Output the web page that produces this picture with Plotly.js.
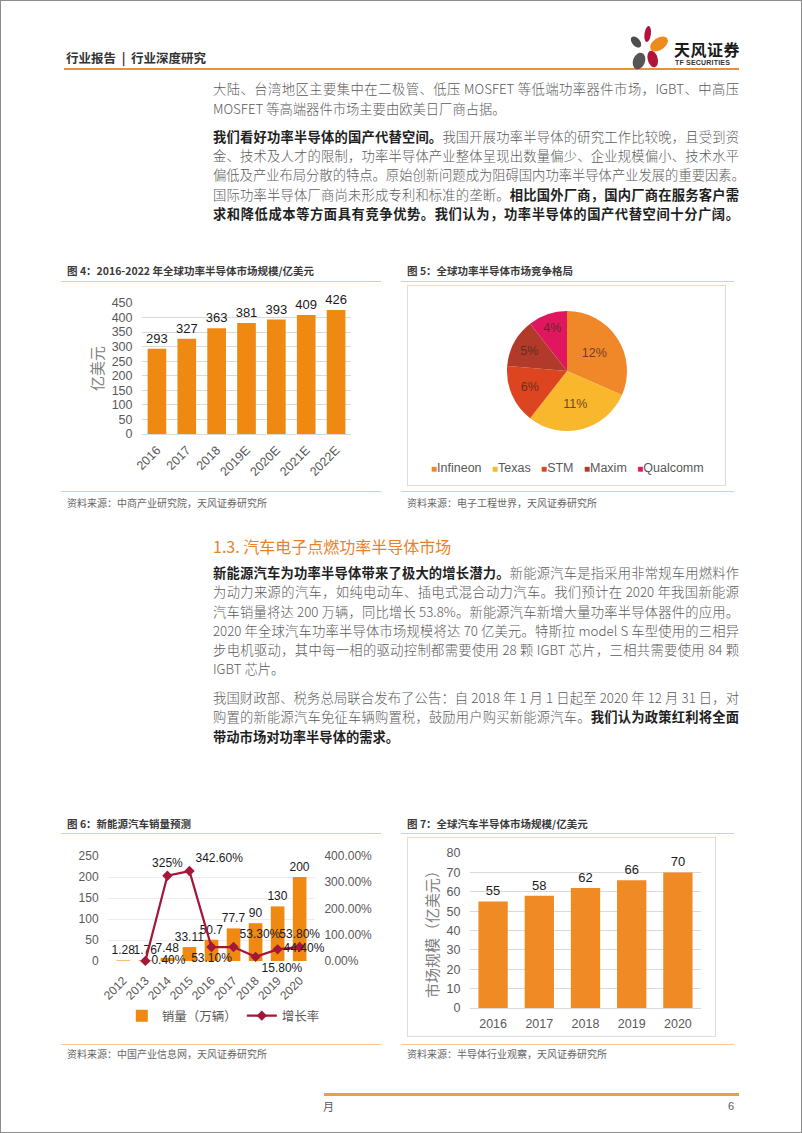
<!DOCTYPE html>
<html>
<head>
<meta charset="utf-8">
<script src="https://cdn.plot.ly/plotly-3.0.1.min.js"></script>
<style>
  html, body { margin:0; padding:0; background:#fff; }
  #page { position:relative; width:802px; height:1133px; box-sizing:border-box; border:1px solid #8c8c8c; overflow:hidden;
          font-family:"Noto Sans CJK SC", "Noto Sans", sans-serif; background:#fff; }
  .abs { position:absolute; white-space:nowrap; }
  .para { position:absolute; left:212px; width:526px; font-size:13.3px; line-height:19.2px; color:#5a5a5a; font-weight:300; }
  .para div { white-space:nowrap; text-align:justify; text-align-last:justify; }
  .para div.last { text-align-last:left; }
  .para b { color:#1f1f1f; font-weight:700; }
  .figtitle { position:absolute; font-size:10.5px; font-weight:700; color:#3a3a3a; line-height:14px; white-space:nowrap; }
  .src { position:absolute; font-size:10px; color:#666; line-height:14px; white-space:nowrap; }
  .rule { position:absolute; height:1px; background:#f4c79c; }
  .box { position:absolute; border:1px solid #dcdcdc; box-sizing:border-box; }
  .chart { position:absolute; }
</style>
</head>
<body>
<div id="page">

  <!-- header -->
  <div class="abs" style="left:65px; top:48px; font-size:12.5px; line-height:17px; font-weight:700; color:#333;">行业报告&nbsp;&nbsp;|&nbsp;&nbsp;行业深度研究</div>
  <div class="abs" style="left:63px; top:67px; width:675px; height:2px; background:#e8913a;"></div>
  <svg class="abs" style="left:626px; top:22px;" width="48" height="50" viewBox="0 0 48 50">
    <ellipse cx="9" cy="19" rx="4" ry="6.5" transform="rotate(-40 9 19)" fill="#4d4d4d"/>
    <ellipse cx="20.7" cy="11" rx="3.2" ry="8" transform="rotate(8 20.7 11)" fill="#b3123b"/>
    <ellipse cx="32" cy="21" rx="10" ry="6" transform="rotate(-35 32 21)" fill="#f08a1c"/>
    <ellipse cx="12" cy="38" rx="6" ry="8.5" transform="rotate(20 12 38)" fill="#555"/>
    <ellipse cx="25.7" cy="36" rx="5" ry="8.5" transform="rotate(-15 25.7 36)" fill="#b3123b"/>
  </svg>
  <div class="abs" style="left:673px; top:38px; font-size:16px; line-height:20px; font-weight:700; color:#1a1a1a; letter-spacing:0.5px;">天风证券</div>
  <div class="abs" style="left:674px; top:57px; font-size:7px; line-height:10px; font-weight:700; color:#333; font-family:'Liberation Sans',Arial,sans-serif; letter-spacing:0.2px;">TF SECURITIES</div>

  <!-- paragraph 1 -->
  <div class="para" style="top:78.4px;">
    <div>大陆、台湾地区主要集中在二极管、低压 MOSFET 等低端功率器件市场，IGBT、中高压</div>
    <div class="last">MOSFET 等高端器件市场主要由欧美日厂商占据。</div>
  </div>
  <!-- paragraph 2 -->
  <div class="para" style="top:125.9px;">
    <div><b>我们看好功率半导体的国产代替空间。</b>我国开展功率半导体的研究工作比较晚，且受到资</div>
    <div>金、技术及人才的限制，功率半导体产业整体呈现出数量偏少、企业规模偏小、技术水平</div>
    <div>偏低及产业布局分散的特点。原始创新问题成为阻碍国内功率半导体产业发展的重要因素。</div>
    <div>国际功率半导体厂商尚未形成专利和标准的垄断。<b>相比国外厂商，国内厂商在服务客户需</b></div>
    <div><b>求和降低成本等方面具有竞争优势。我们认为，功率半导体的国产代替空间十分广阔。</b></div>
  </div>

  <!-- figure 4 / 5 frames -->
  <div class="figtitle" style="left:66px; top:263px;">图 4：2016-2022 年全球功率半导体市场规模/亿美元</div>
  <div class="figtitle" style="left:406px; top:263px;">图 5：全球功率半导体市场竞争格局</div>
  <div class="rule" style="left:60px; top:280px; width:320px;"></div>
  <div class="rule" style="left:400px; top:280px; width:333px;"></div>
  <div class="box" style="left:406px; top:284px; width:319px; height:201px;"></div>
  <div id="fig4" class="chart" style="left:60px; top:285px; width:325px; height:200px;"></div>
  <div id="fig5" class="chart" style="left:407px; top:285px; width:318px; height:200px;"></div>
  <div class="rule" style="left:60px; top:490px; width:320px;"></div>
  <div class="rule" style="left:400px; top:490px; width:333px;"></div>
  <div class="src" style="left:66px; top:495px;">资料来源：中商产业研究院，天风证券研究所</div>
  <div class="src" style="left:406px; top:495px;">资料来源：电子工程世界，天风证券研究所</div>

  <!-- section 1.3 -->
  <div class="abs" style="left:212px; top:535px; font-size:16px; line-height:21px; color:#e8822a;">1.3. 汽车电子点燃功率半导体市场</div>
  <div class="para" style="top:562.1px;">
    <div><b>新能源汽车为功率半导体带来了极大的增长潜力。</b>新能源汽车是指采用非常规车用燃料作</div>
    <div>为动力来源的汽车，如纯电动车、插电式混合动力汽车。我们预计在 2020 年我国新能源</div>
    <div>汽车销量将达 200 万辆，同比增长 53.8%。新能源汽车新增大量功率半导体器件的应用。</div>
    <div>2020 年全球汽车功率半导体市场规模将达 70 亿美元。特斯拉 model S 车型使用的三相异</div>
    <div>步电机驱动，其中每一相的驱动控制都需要使用 28 颗 IGBT 芯片，三相共需要使用 84 颗</div>
    <div class="last">IGBT 芯片。</div>
  </div>
  <div class="para" style="top:687.1px;">
    <div>我国财政部、税务总局联合发布了公告：自 2018 年 1 月 1 日起至 2020 年 12 月 31 日，对</div>
    <div>购置的新能源汽车免征车辆购置税，鼓励用户购买新能源汽车。<b>我们认为政策红利将全面</b></div>
    <div class="last"><b>带动市场对功率半导体的需求。</b></div>
  </div>

  <!-- figure 6 / 7 frames -->
  <div class="figtitle" style="left:66px; top:815.7px;">图 6：新能源汽车销量预测</div>
  <div class="figtitle" style="left:406px; top:815.7px;">图 7：全球汽车半导体市场规模/亿美元</div>
  <div class="rule" style="left:60px; top:832px; width:320px;"></div>
  <div class="rule" style="left:400px; top:832px; width:333px;"></div>
  <div class="box" style="left:406px; top:836px; width:309px; height:200px;"></div>
  <div id="fig6" class="chart" style="left:60px; top:835px; width:320px; height:200px;"></div>
  <div id="fig7" class="chart" style="left:406px; top:836px; width:309px; height:200px;"></div>
  <div class="rule" style="left:60px; top:1043px; width:320px;"></div>
  <div class="rule" style="left:400px; top:1043px; width:333px;"></div>
  <div class="src" style="left:66px; top:1046px;">资料来源：中国产业信息网，天风证券研究所</div>
  <div class="src" style="left:406px; top:1046px;">资料来源：半导体行业观察，天风证券研究所</div>

  <!-- footer -->
  <div class="abs" style="left:323px; top:1092px; width:415px; height:3px; background:#e9a13a;"></div>
  <div class="abs" style="left:322px; top:1097px; font-size:11px; line-height:16px; color:#595959;">月</div>
  <div class="abs" style="left:727px; top:1097px; font-size:11px; line-height:16px; color:#595959; font-family:'Liberation Sans',Arial,sans-serif;">6</div>
</div>

<script>
// 图4：全球功率半导体市场规模（亿美元）
const marketYears = ['2016', '2017', '2018', '2019E', '2020E', '2021E', '2022E'];
const marketSize = [293, 327, 363, 381, 393, 409, 426];

// 图5：全球功率半导体市场竞争格局
const vendors = ['Infineon', 'Texas', 'STM', 'Maxim', 'Qualcomm'];
const vendorShare = [12, 11, 6, 5, 4];
const vendorColors = ['#f0882a', '#f8b72c', '#dc451f', '#b23a2b', '#e0175f'];

// 图6：新能源汽车销量（万辆）与增长率
const evYears = ['2012', '2013', '2014', '2015', '2016', '2017', '2018', '2019', '2020'];
const evSales = [1.28, 1.76, 7.48, 33.11, 50.7, 77.7, 90, 130, 200];
const evGrowth = [null, 0.004, 3.25, 3.426, 0.531, 0.533, 0.158, 0.444, 0.538];
const evGrowthLabels = ['', '0.40%', '325%', '342.60%', '53.10%', '53.30%', '15.80%', '44.40%', '53.80%'];

// 图7：全球汽车半导体市场规模（亿美元）
const autoYears = ['2016', '2017', '2018', '2019', '2020'];
const autoSize = [55, 58, 62, 66, 70];

const fontFam = '"Liberation Sans", Arial, "Noto Sans CJK SC", sans-serif';
const cfg = { displayModeBar: false, staticPlot: true };
const clear = 'rgba(0,0,0,0)';
const tickGray = '#595959';

// Figure 4
Plotly.newPlot('fig4', [{
    type: 'bar',
    x: marketYears,
    y: marketSize,
    marker: { color: '#ef8912' },
    text: marketSize.map(String),
    textposition: 'outside',
    constraintext: 'none',
    cliponaxis: false,
    textfont: { size: 13, color: '#1a1a1a' }
}], {
    width: 325, height: 200,
    margin: { l: 81, r: 35, t: 17, b: 52 },
    paper_bgcolor: clear, plot_bgcolor: clear,
    font: { family: fontFam, size: 12, color: tickGray },
    bargap: 0.375,
    showlegend: false,
    xaxis: {
        type: 'category', tickangle: -45,
        ticks: 'outside', ticklen: 3, tickcolor: clear,
        showline: true, linecolor: '#d9d9d9',
        tickfont: { size: 12.5, color: tickGray }
    },
    yaxis: {
        range: [0, 450], dtick: 50, gridcolor: '#d9d9d9', zeroline: false,
        ticks: 'outside', ticklen: 6, tickcolor: clear,
        tickfont: { size: 12.5, color: tickGray },
        title: { text: '亿美元', font: { size: 15, color: '#808080' }, standoff: 4 }
    }
}, cfg);

// Figure 5 (legend written as one annotation so it stays on one compact row)
const pieLegend = vendors.map((v, i) =>
    '<span style="color:' + vendorColors[i] + ';font-size:10px">■</span>' + v).join('   ');

Plotly.newPlot('fig5', [{
    type: 'pie',
    labels: vendors,
    values: vendorShare,
    sort: false,
    direction: 'clockwise',
    rotation: 0,
    marker: { colors: vendorColors, line: { width: 0 } },
    text: vendorShare.map(v => v + '%'),
    textinfo: 'text',
    textposition: 'inside',
    insidetextorientation: 'horizontal',
    textfont: { size: 12.5, color: 'rgba(75,40,30,0.8)', family: fontFam },
    domain: { x: [0.31, 0.69], y: [0.275, 0.875] }
}], {
    width: 318, height: 200,
    margin: { l: 0, r: 0, t: 0, b: 0 },
    paper_bgcolor: clear,
    showlegend: false,
    font: { family: fontFam },
    annotations: [{
        text: pieLegend, showarrow: false,
        xref: 'paper', yref: 'paper', x: 0.503, y: 0.092,
        xanchor: 'center', yanchor: 'middle',
        font: { size: 12.5, color: tickGray }
    }]
}, cfg);

// Figure 6
const growthPos = ['top center', 'middle right', 'top center', 'top right', 'bottom center',
                   'top right', 'bottom right', 'middle right', 'top center'];

Plotly.newPlot('fig6', [{
    type: 'bar',
    name: '销量（万辆）',
    x: evYears,
    y: evSales,
    marker: { color: '#ef8912' },
    texttemplate: '%{y}',
    textposition: 'outside',
    constraintext: 'none',
    cliponaxis: false,
    textfont: { size: 12, color: '#1a1a1a' }
}, {
    type: 'scatter',
    name: '增长率',
    x: evYears,
    y: evGrowth,
    yaxis: 'y2',
    mode: 'lines+markers+text',
    line: { color: '#a3173a', width: 2.2 },
    marker: { symbol: 'diamond', size: 8, color: '#a3173a' },
    text: evGrowthLabels,
    textposition: growthPos,
    cliponaxis: false,
    textfont: { size: 12, color: '#1a1a1a' }
}], {
    width: 320, height: 200,
    margin: { l: 47, r: 66, t: 20, b: 75 },
    paper_bgcolor: clear, plot_bgcolor: clear,
    font: { family: fontFam, size: 12, color: tickGray },
    bargap: 0.38,
    xaxis: {
        type: 'category', tickangle: -45,
        ticks: 'outside', ticklen: 7, tickcolor: clear,
        tickfont: { size: 12, color: tickGray }
    },
    yaxis: {
        range: [0, 250], dtick: 50, gridcolor: '#ececec', zeroline: false,
        ticks: 'outside', ticklen: 6, tickcolor: clear,
        tickfont: { size: 12, color: tickGray }
    },
    yaxis2: {
        overlaying: 'y', side: 'right', range: [0, 4], dtick: 1, tickformat: '.2%',
        showgrid: false, zeroline: false,
        ticks: 'outside', ticklen: 6, tickcolor: clear,
        tickfont: { size: 12, color: tickGray }
    },
    showlegend: true,
    legend: {
        orientation: 'h', x: 0.557, xanchor: 'center',
        yref: 'container', y: 0.1, yanchor: 'middle',
        font: { size: 12.5, color: tickGray }, bgcolor: clear
    }
}, cfg);

// Figure 7
Plotly.newPlot('fig7', [{
    type: 'bar',
    x: autoYears,
    y: autoSize,
    marker: { color: '#f08a24' },
    text: autoSize.map(String),
    textposition: 'outside',
    constraintext: 'none',
    cliponaxis: false,
    textfont: { size: 13, color: '#1a1a1a' }
}], {
    width: 309, height: 200,
    margin: { l: 63, r: 15, t: 16, b: 29 },
    paper_bgcolor: clear, plot_bgcolor: clear,
    font: { family: fontFam, size: 12, color: tickGray },
    bargap: 0.366,
    showlegend: false,
    xaxis: {
        type: 'category',
        ticks: 'outside', ticklen: 4, tickcolor: clear,
        showline: true, linecolor: '#d9d9d9',
        tickfont: { size: 12.5, color: tickGray }
    },
    yaxis: {
        range: [0, 80], dtick: 10, gridcolor: '#d9d9d9', zeroline: false,
        ticks: 'outside', ticklen: 6, tickcolor: clear,
        tickfont: { size: 12.5, color: tickGray },
        title: { text: '市场规模（亿美元）', font: { size: 15, color: '#808080' }, standoff: 4 }
    }
}, cfg);
</script>
</body>
</html>
